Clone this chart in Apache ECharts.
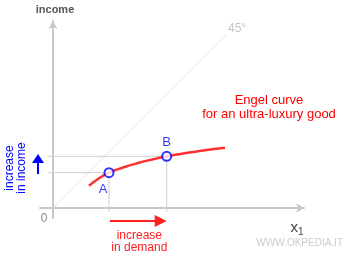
<!DOCTYPE html>
<html><head><meta charset="utf-8">
<script src="https://cdn.jsdelivr.net/npm/echarts@6/dist/echarts.min.js"></script>
<style>html,body{margin:0;padding:0;background:#fff}#c{width:350px;height:260px}</style>
</head><body><div id="c"></div>
<script>
// Engel curve samples (x = quantity of good 1, y = income)
const curveX = [36, 45, 56, 70, 85, 100, 114, 130, 150, 172];
const curveY = [22.3, 29, 35.3, 40.5, 45, 48.7, 51.7, 54.5, 57.5, 60.3];
// Marked points
const pointNames = ['A', 'B'];
const pointX = [56, 113.7];
const pointY = [35.3, 51.7];
// 45 degree reference line
const diagonalX = [0, 173];
const diagonalY = [0, 173];

const FONT = 'Liberation Sans, Arial, sans-serif';
const chart = echarts.init(document.getElementById('c'), null, {renderer: 'canvas'});

const guideSeries = pointX.map((x, i) => ({
  type: 'line', silent: true, symbol: 'none', clip: false, animation: false,
  lineStyle: {color: '#cfcfcf', width: 1},
  data: [[-5, pointY[i]], [x, pointY[i]], [x, -4]], z: 1
}));

const labelBase = {show: true, formatter: '{@[2]}', color: '#0000ff', fontSize: 13, fontFamily: FONT};

chart.setOption({
  animation: false,
  grid: {left: 40, right: 46, top: 21, bottom: 42},
  xAxis: {
    type: 'value', min: -13, max: 251,
    axisLine: {onZero: true, symbol: ['none', 'arrow'], symbolSize: [7, 8],
      lineStyle: {color: '#c8c8c8', width: 2}},
    axisTick: {show: false}, axisLabel: {show: false}, splitLine: {show: false}
  },
  yAxis: {
    type: 'value', min: -10, max: 187,
    name: 'income', nameLocation: 'end', nameGap: 6,
    nameTextStyle: {color: '#555', fontSize: 11, fontWeight: 'bold', fontFamily: FONT, padding: [0, 0, 0, 4]},
    axisLine: {onZero: true, symbol: ['none', 'arrow'], symbolSize: [7, 8],
      lineStyle: {color: '#c8c8c8', width: 2}},
    axisTick: {show: false}, axisLabel: {show: false}, splitLine: {show: false}
  },
  series: [
    {type: 'line', silent: true, symbol: 'none', z: 1,
      lineStyle: {color: '#e3e3e3', width: 1},
      data: diagonalX.map((x, i) => [x, diagonalY[i]])},
    ...guideSeries,
    {type: 'line', silent: true, symbol: 'none', smooth: true, z: 3,
      lineStyle: {color: '#ff3030', width: 2.5},
      data: curveX.map((x, i) => [x, curveY[i]])},
    {type: 'scatter', symbol: 'circle', symbolSize: 9, z: 4,
      itemStyle: {color: '#fff', borderColor: '#0000ff', borderWidth: 2},
      label: labelBase,
      data: pointX.map((x, i) => ({
        value: [x, pointY[i], pointNames[i]],
        label: Object.assign({}, labelBase, i === 0 ? {position: 'bottom', offset: [-6, 0]} : {position: 'top', offset: [0, 3]})
      }))}
  ]
});

const pA = chart.convertToPixel({gridIndex: 0}, [pointX[0], 0]);
const pB = chart.convertToPixel({gridIndex: 0}, [pointX[1], 0]);
const ay = 221;
const ax0 = pA[0] + 1, ax1 = pB[0];

chart.setOption({
  graphic: [
    // red horizontal arrow
    {type: 'line', shape: {x1: ax0, y1: ay, x2: ax1 - 10, y2: ay}, style: {stroke: '#ff2020', lineWidth: 2}},
    {type: 'polygon', shape: {points: [[ax1, ay], [ax1 - 12, ay - 6], [ax1 - 12, ay + 6]]}, style: {fill: '#ff2020'}},
    {type: 'text', x: (ax0 + ax1) / 2 + 1, y: 242, style: {text: 'increase\nin demand', fill: '#ff2020',
      font: '12px ' + FONT, align: 'center', verticalAlign: 'middle', lineHeight: 12}},
    // blue vertical arrow
    {type: 'line', shape: {x1: 38, y1: 174, x2: 38, y2: 162}, style: {stroke: '#0000ff', lineWidth: 2}},
    {type: 'polygon', shape: {points: [[38, 154], [32, 163], [44, 163]]}, style: {fill: '#0000ff'}},
    {type: 'text', x: 16, y: 168, rotation: Math.PI / 2, style: {text: 'increase\nin income', fill: '#0000ff',
      font: '12px ' + FONT, align: 'center', verticalAlign: 'middle', lineHeight: 12}},
    // curve caption
    {type: 'text', x: 269, y: 107, style: {text: 'Engel curve\nfor an ultra-luxury good', fill: '#ff0000',
      font: '13px ' + FONT, align: 'center', verticalAlign: 'middle', lineHeight: 14}},
    // 45 degree label
    {type: 'text', x: 228, y: 29, style: {text: '45°', fill: '#c4c4c4', font: '12px ' + FONT, align: 'left', verticalAlign: 'middle'}},
    // origin label
    {type: 'text', x: 44, y: 219, style: {text: '0', fill: '#888', font: '12px ' + FONT, align: 'center', verticalAlign: 'middle'}},
    // x axis name
    {type: 'text', x: 297, y: 228, style: {text: '{x|x}{s|1}', font: '15px ' + FONT, align: 'center', verticalAlign: 'middle',
      rich: {x: {fontSize: 15, fill: '#444', fontFamily: FONT}, s: {fontSize: 10, fill: '#444', fontFamily: FONT, padding: [8, 0, 0, 0]}}}},
    // watermark
    {type: 'text', x: 343, y: 243, style: {text: 'WWW.OKPEDIA.IT', fill: '#cccccc', font: '10px ' + FONT, align: 'right', verticalAlign: 'middle'}}
  ]
});
</script></body></html>
